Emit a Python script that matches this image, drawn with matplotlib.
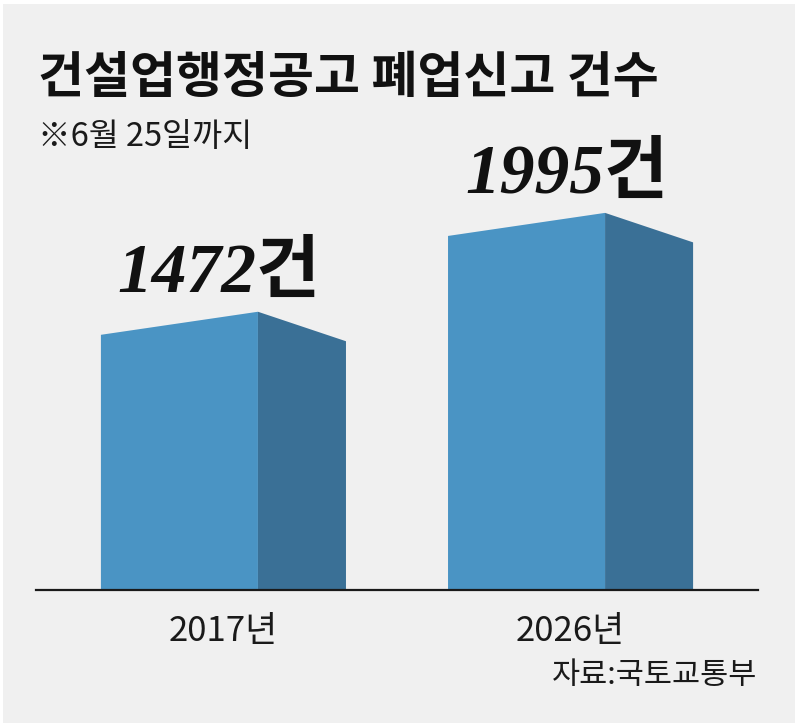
import matplotlib
matplotlib.use('Agg')
import matplotlib.pyplot as plt
from matplotlib.patches import Polygon, Rectangle

# ---- data ----
categories = ['2017년', '2026년']
values = [1472, 1995]
value_labels = ['1472건', '1995건']
title = '건설업행정공고 폐업신고 건수'
subtitle = '※6월 25일까지'
source = '자료:국토교통부'

# ---- style ----
W, H = 800, 727
BG = '#f0f0f0'
FRONT = '#4a94c4'
SIDE = '#3a7096'
KR = ['Noto Sans CJK KR', 'DejaVu Sans']
SERIF = ['Liberation Serif', 'Noto Sans CJK KR']

fig = plt.figure(figsize=(W / 100, H / 100), dpi=100)
fig.patch.set_facecolor('white')
fig.patches.append(Rectangle((3 / W, 4 / H), 792 / W, 719 / H,
                             transform=fig.transFigure, facecolor=BG,
                             edgecolor='none', zorder=-5))

# axes: baseline from x=36 to 758 px, at y=590 px
ax = fig.add_axes([36 / W, (H - 590) / H, 722 / W, 586 / H])
ax.set_zorder(2)
ax.set_xlim(-0.54, 1.54)
ax.set_ylim(0, 3100)
ax.axis('off')

# prism geometry (x in category units, y drop in value units)
FL, RIDGE, SR = -0.353, 0.0994, 0.353
FRONT_DROP, SIDE_DROP = 122, 156

for i, v in enumerate(values):
    front = [(i + FL, 0), (i + RIDGE, 0), (i + RIDGE, v), (i + FL, v - FRONT_DROP)]
    side = [(i + RIDGE, 0), (i + SR, 0), (i + SR, v - SIDE_DROP), (i + RIDGE, v)]
    ax.add_patch(Polygon(front, closed=True, facecolor=FRONT, edgecolor='none', zorder=2))
    ax.add_patch(Polygon(side, closed=True, facecolor=SIDE, edgecolor='none', zorder=2))
    ax.text(i - 0.012, v + 105, value_labels[i], ha='center', va='baseline',
            fontsize=50, family=SERIF, weight='bold', style='italic',
            color='#111111', zorder=3)
    ax.text(i, -268, categories[i], ha='center', va='baseline',
            fontsize=25, family=KR, color='#1a1a1a', clip_on=False)

ax.axhline(0, color='#1a1a1a', lw=1.6, zorder=4, clip_on=False)

fig.text(38 / W, 1 - 93 / H, title, ha='left', va='baseline',
         fontsize=36, family=KR, weight='bold', color='#111111')
fig.text(38 / W, 1 - 146 / H, subtitle, ha='left', va='baseline',
         fontsize=23.5, family=KR, color='#1a1a1a')
fig.text(757 / W, 1 - 684 / H, source, ha='right', va='baseline',
         fontsize=22, family=KR, color='#1a1a1a')

fig.savefig('out.png', dpi=100, facecolor='white')
